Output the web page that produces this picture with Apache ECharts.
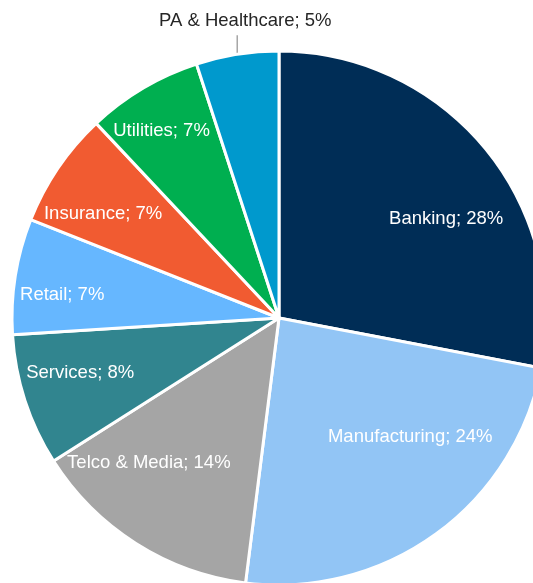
<!DOCTYPE html>
<html>
<head>
<meta charset="utf-8">
<script src="https://cdn.jsdelivr.net/npm/echarts@6/dist/echarts.min.js"></script>
<style>
  html, body { margin: 0; padding: 0; background: #ffffff; }
  #chart { width: 533px; height: 583px; }
</style>
</head>
<body>
<div id="chart"></div>
<script>
// Sector share of the portfolio, clockwise from twelve o'clock
const sectors = ['Banking', 'Manufacturing', 'Telco & Media', 'Services', 'Retail', 'Insurance', 'Utilities', 'PA & Healthcare'];
const shares = [28, 24, 14, 8, 7, 7, 7, 5];

const sliceColors = ['#002D56', '#92C5F5', '#A5A5A5', '#31858F', '#66B7FF', '#F15B31', '#00AF50', '#0099CD'];
// nudges applied to each label from its default in-slice spot
const labelShift = [[62, -12], [51, 8], [-57, 30], [-69, 13], [-82, -2], [-63, -27], [-48, -70], [0, 0]];
const outsideIndex = 7;

const data = sectors.map((name, i) => ({
  name,
  value: shares[i],
  itemStyle: { color: sliceColors[i] },
  label: i === outsideIndex
    ? { position: 'outside', color: '#262626' }
    : { position: 'inside', color: '#ffffff' },
  labelLine: { show: i === outsideIndex }
}));

const chart = echarts.init(document.getElementById('chart'), null, { renderer: 'canvas' });
chart.setOption({
  animation: false,
  backgroundColor: '#ffffff',
  series: [{
    type: 'pie',
    center: [279, 318],
    radius: 267,
    startAngle: 90,
    clockwise: true,
    avoidLabelOverlap: false,
    itemStyle: { borderColor: '#ffffff', borderWidth: 3 },
    label: {
      show: true,
      formatter: (p) => p.name + '; ' + p.value + '%',
      fontFamily: 'Liberation Sans, Arial, sans-serif',
      fontSize: 18.5,
      overflow: 'none'
    },
    labelLine: {
      length: 17,
      length2: 0,
      lineStyle: { color: '#A6A6A6', width: 1.5 }
    },
    labelLayout: (p) => {
      if (p.dataIndex === outsideIndex) {
        const start = p.labelLinePoints[0];
        const top = start[1] - 19;
        return {
          x: start[0] + 8,
          y: start[1] - 33,
          align: 'center',
          verticalAlign: 'middle',
          labelLinePoints: [[start[0], start[1]], [start[0], top], [start[0], top]]
        };
      }
      const s = labelShift[p.dataIndex];
      return { dx: s[0], dy: s[1] };
    },
    emphasis: { disabled: true },
    data
  }]
});
</script>
</body>
</html>
